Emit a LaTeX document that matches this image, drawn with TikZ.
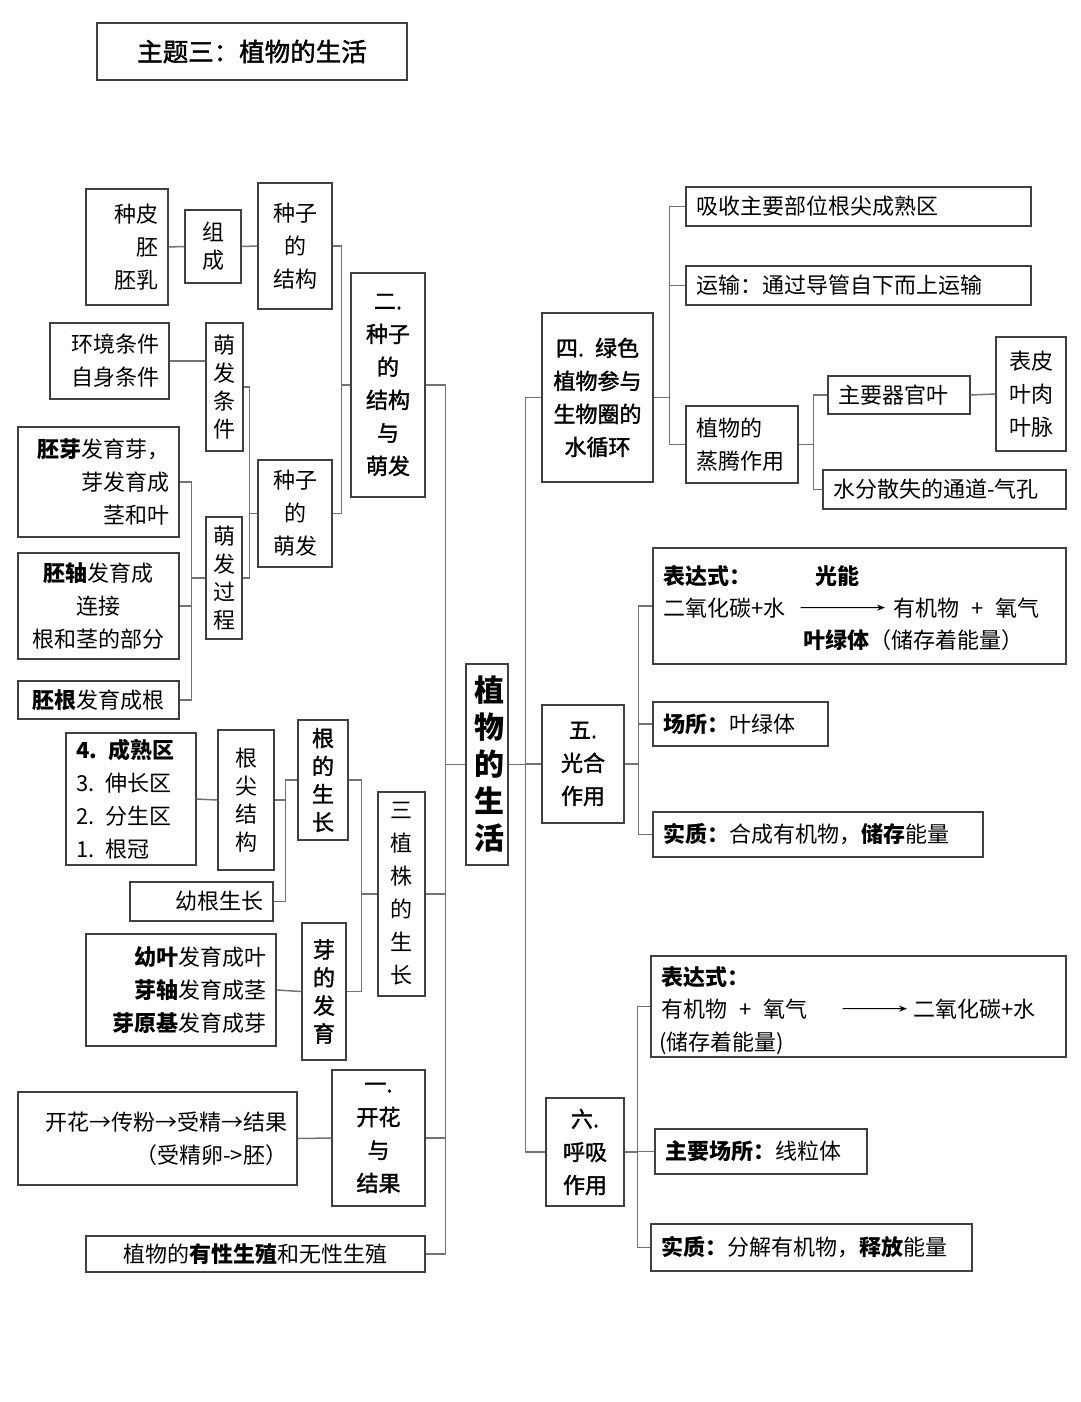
\documentclass[tikz,border=0pt]{standalone}
\usepackage{fontspec}
\setmainfont{Noto Sans CJK SC}
\newfontfamily\medfont{Noto Sans CJK SC}[FakeBold=1.6]
\usetikzlibrary{arrows.meta}
\tikzset{
  box/.style={draw=black!75, line width=1.2pt, fill=white, inner sep=0pt, font=\fontsize{22}{33}\selectfont},
  vnar/.style={font=\fontsize{22}{28}\selectfont},
  med/.style={font=\fontsize{22}{33}\selectfont\medfont},
  conn/.style={draw=black!55, line width=1.5pt},
  txt/.style={inner sep=0pt, font=\fontsize{22}{33}\selectfont},
  arr/.style={draw=black, line width=1pt, -{Stealth[length=8pt,width=6pt]}}
}
\newcommand\bx[7]{%
  \pgfmathsetmacro\bw{#4-#2}%
  \pgfmathsetmacro\bh{#5-#3}%
  \pgfmathsetmacro\bcx{(#2+#4)/2}%
  \pgfmathsetmacro\bcy{(#3+#5)/2}%
  \pgfmathsetmacro\btw{max(\bw-20,26)}%
  \node[box, minimum width=\bw pt, minimum height=\bh pt, text width=\btw pt, #6] (#1) at (\bcx,\bcy) {#7};%
}
\begin{document}
\begin{tikzpicture}[x=1pt,y=-1pt]
\useasboundingbox[fill=white] (0,0) rectangle (1080,1402);

% title
\bx{title}{97}{23}{407}{80}{align=center, font=\fontsize{25.5}{30}\selectfont\medfont}{主题三：植物的生活}

% centre
\bx{root}{466}{664}{508}{865}{align=center, font=\fontsize{30}{37}\selectfont\bfseries}{植\\物\\的\\生\\活}

% ---------- left: seed ----------
\bx{seedparts}{86}{189}{168}{305}{align=right}{种皮\\胚\\胚乳}
\bx{zucheng}{185}{210}{241}{283}{align=center, vnar}{组\\成}
\bx{seedstruct}{258}{183}{332}{309}{align=center}{种子\\的\\结构}
\bx{n2}{351}{273}{425}{497}{align=center, med}{二.\\种子\\的\\结构\\与\\萌发}
\bx{cond}{50}{323}{169}{399}{align=right}{环境条件\\自身条件}
\bx{germcond}{206}{323}{243}{451}{align=center, vnar}{萌\\发\\条\\件}
\bx{plumule}{18}{427}{179}{537}{align=right}{\textbf{胚芽}发育芽，\\芽发育成\\茎和叶}
\bx{germproc}{206}{517}{242}{639}{align=center, vnar}{萌\\发\\过\\程}
\bx{seedgerm}{258}{460}{332}{567}{align=center}{种子\\的\\萌发}
\bx{hypocotyl}{18}{553}{179}{659}{align=center}{\textbf{胚轴}发育成\\连接\\根和茎的部分}
\bx{radicle}{18}{681}{179}{719}{align=center}{\textbf{胚根}发育成根}

% ---------- left: plant growth ----------
\bx{zones}{66}{733}{196}{865}{align=left}{\textbf{4. 成熟区}\\3. 伸长区\\2. 分生区\\1. 根冠}
\bx{roottip}{218}{730}{274}{870}{align=center, vnar}{根\\尖\\结\\构}
\bx{rootgrow}{298}{720}{348}{840}{align=center, font=\fontsize{22}{28}\selectfont\medfont}{根\\的\\生\\长}
\bx{youngroot}{130}{882}{273}{921}{align=right}{幼根生长}
\bx{n3}{378}{792}{425}{996}{align=center}{三\\植\\株\\的\\生\\长}
\bx{budparts}{86}{934}{276}{1046}{align=right}{\textbf{幼叶}发育成叶\\\textbf{芽轴}发育成茎\\\textbf{芽原基}发育成芽}
\bx{buddev}{302}{923}{346}{1060}{align=center, font=\fontsize{22}{28}\selectfont\medfont}{芽\\的\\发\\育}

% ---------- left: flowering ----------
\bx{flowseq}{18}{1092}{297}{1185}{align=right}{开花→传粉→受精→结果\\（受精卵->胚）}
\bx{n1}{332}{1070}{425}{1206}{align=center, med}{一.\\开花\\与\\结果}
\bx{repro}{86}{1236}{425}{1272}{align=center}{植物的\textbf{有性生殖}和无性生殖}

% ---------- right: water cycle ----------
\bx{n4}{542}{313}{653}{482}{align=center, med}{四. 绿色\\植物参与\\生物圈的\\水循环}
\bx{absorb}{686}{187}{1031}{226}{align=left}{吸收主要部位根尖成熟区}
\bx{transport}{686}{266}{1031}{305}{align=left}{运输：通过导管自下而上运输}
\bx{transp}{686}{406}{798}{483}{align=left}{植物的\\蒸腾作用}
\bx{organ}{828}{376}{970}{414}{align=left}{主要器官叶}
\bx{leafparts}{996}{337}{1066}{451}{align=center}{表皮\\叶肉\\叶脉}
\bx{stoma}{823}{470}{1066}{509}{align=left}{水分散失的通道-气孔}

% ---------- right: photosynthesis ----------
\bx{n5}{542}{705}{624}{823}{align=center, med}{五.\\光合\\作用}
\bx{f5}{653}{548}{1066}{664}{}{}
\node[txt, anchor=base west] (f5a) at (663,584) {\textbf{表达式：}};
\node[txt, anchor=base west] (f5b) at (815,584) {\textbf{光能}};
\node[txt, anchor=base west] (f5c) at (663,616) {二氧化碳+水};
\node[txt, anchor=base west] (f5d) at (893,616) {有机物\hspace{12pt}+\hspace{12pt}氧气};
\node[txt, anchor=base west] (f5e) at (803,648) {\textbf{叶绿体}（储存着能量）};
\draw[arr] ([xshift=15pt]f5c.east) -- ([xshift=-8pt]f5d.west);
\bx{site5}{653}{702}{828}{746}{align=left}{\textbf{场所：}叶绿体}
\bx{ess5}{653}{812}{983}{857}{align=left}{\textbf{实质：}合成有机物，\textbf{储存}能量}

% ---------- right: respiration ----------
\bx{n6}{546}{1098}{624}{1206}{align=center, med}{六.\\呼吸\\作用}
\bx{f6}{651}{956}{1066}{1057}{}{}
\node[txt, anchor=base west] (f6a) at (661,985) {\textbf{表达式：}};
\node[txt, anchor=base west] (f6b) at (661,1017) {有机物\hspace{12pt}+\hspace{12pt}氧气};
\node[txt, anchor=base west] (f6c) at (913,1017) {二氧化碳+水};
\node[txt, anchor=base west] (f6d) at (659,1050) {(储存着能量)};
\draw[arr] ([xshift=35pt]f6b.east) -- ([xshift=-6pt]f6c.west);
\bx{site6}{655}{1129}{867}{1174}{align=left}{\textbf{主要场所：}线粒体}
\bx{ess6}{651}{1224}{972}{1271}{align=left}{\textbf{实质：}分解有机物，\textbf{释放}能量}

% ---------- connectors ----------
% main trunks
\draw[conn] (root.west) -- ++(-20,0) coordinate (lt);
\draw[conn] (n2.east) -| (lt);
\draw[conn] (n3.east) -| (lt);
\draw[conn] (n1.east) -| (lt);
\draw[conn] (repro.east) -| (lt);
\draw[conn] (root.east) -- ++(17,0) coordinate (rt);
\draw[conn] (rt) |- (n4.west);
\draw[conn] (rt) |- (n5.west);
\draw[conn] (rt) |- (n6.west);

% seed branch
\draw[conn] (n2.west) -- ++(-9,0) coordinate (t2);
\draw[conn] (t2) |- (seedstruct.east);
\draw[conn] (t2) |- (seedgerm.east);
\draw[conn] (seedstruct.west) -- (zucheng.east);
\draw[conn] (zucheng.west) -- (seedparts.east);
\draw[conn] (seedgerm.west) -- ++(-8,0) coordinate (t22);
\draw[conn] (t22) |- (germcond.east);
\draw[conn] (t22) |- (germproc.east);
\draw[conn] (cond.east) -- (cond.east -| germcond.west);
\draw[conn] (germproc.west) -- ++(-14,0) coordinate (t23);
\draw[conn] (t23) |- (plumule.east);
\draw[conn] (t23) |- (hypocotyl.east);
\draw[conn] (t23) |- (radicle.east);

% plant growth branch
\draw[conn] (n3.west) -- ++(-16,0) coordinate (t3);
\draw[conn] (t3) |- (rootgrow.east);
\draw[conn] (t3) |- (buddev.east);
\draw[conn] (rootgrow.west) -- ++(-12,0) coordinate (t31);
\draw[conn] (t31) |- (roottip.east);
\draw[conn] (t31) |- (youngroot.east);
\draw[conn] (roottip.west) -- (zones.east);
\draw[conn] (buddev.west) -- (budparts.east);

% flowering
\draw[conn] (n1.west) -- (flowseq.east);

% water cycle branch
\draw[conn] (n4.east) -- ++(16,0) coordinate (t4);
\draw[conn] (t4) |- (absorb.west);
\draw[conn] (t4) |- (transport.west);
\draw[conn] (t4) |- (transp.west);
\draw[conn] (transp.east) -- ++(15,0) coordinate (t41);
\draw[conn] (t41) |- (organ.west);
\draw[conn] (t41) |- (stoma.west);
\draw[conn] (organ.east) -- (leafparts.west);

% photosynthesis branch
\draw[conn] (n5.east) -- ++(14,0) coordinate (t5);
\draw[conn] (t5) |- (f5.west);
\draw[conn] (t5) |- (site5.west);
\draw[conn] (t5) |- (ess5.west);

% respiration branch
\draw[conn] (n6.east) -- ++(13,0) coordinate (t6);
\draw[conn] (t6) |- (f6.west);
\draw[conn] (t6) |- (site6.west);
\draw[conn] (t6) |- (ess6.west);
\end{tikzpicture}
\end{document}
